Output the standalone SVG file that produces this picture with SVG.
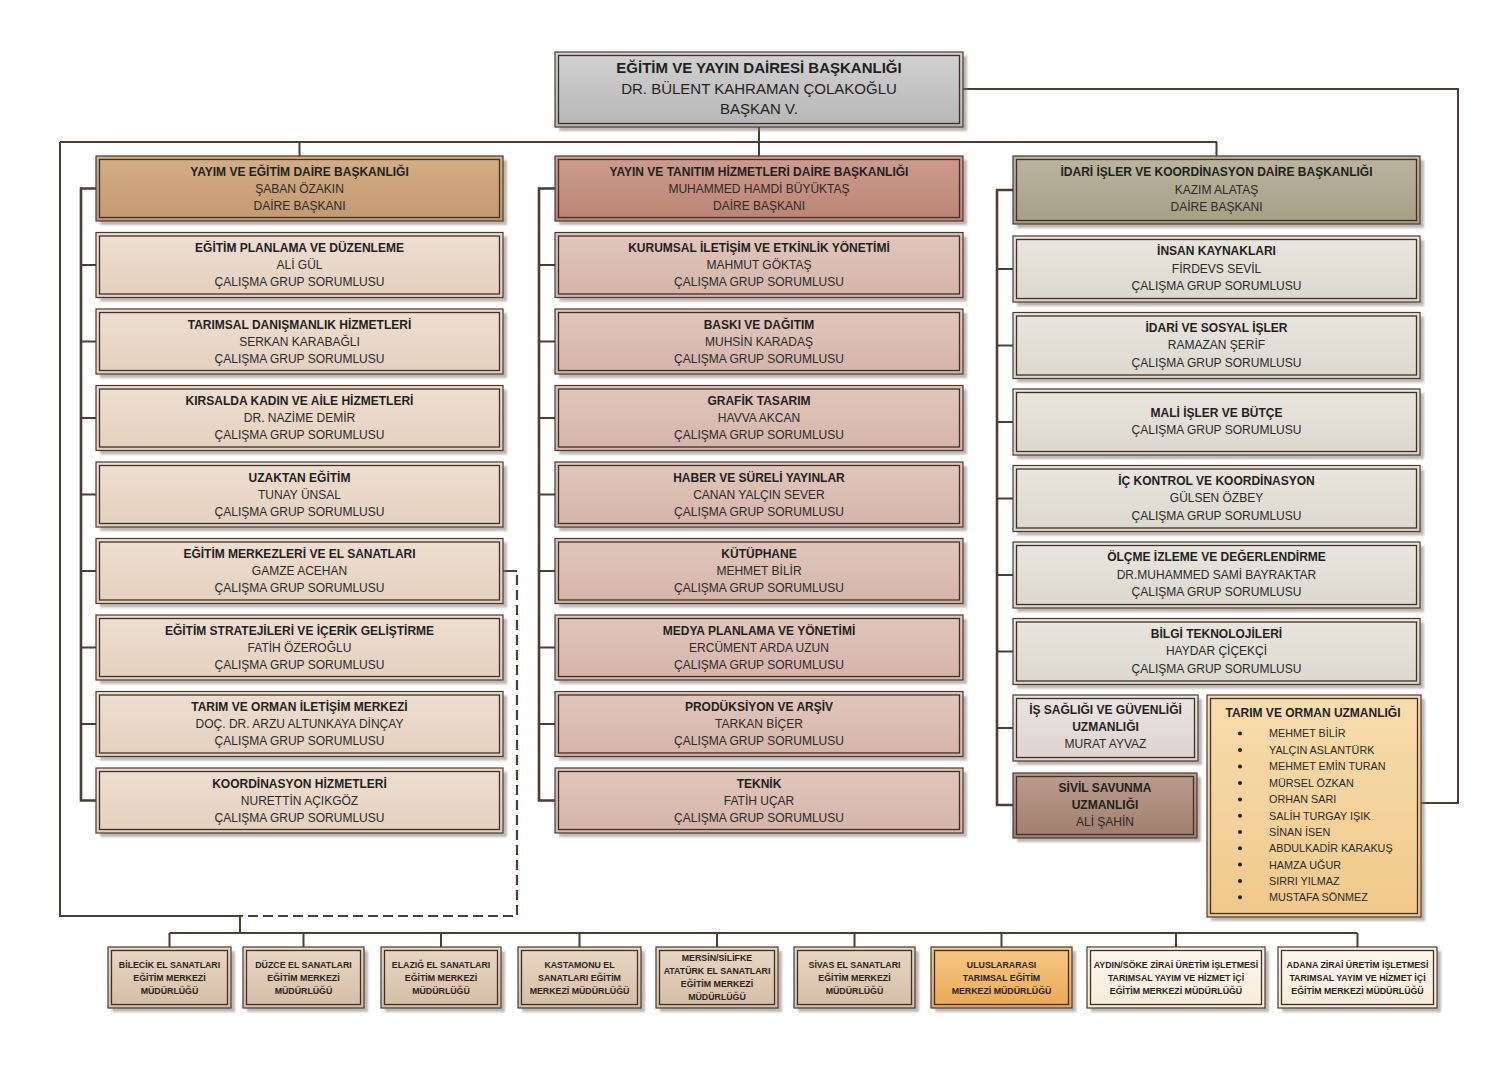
<svg xmlns="http://www.w3.org/2000/svg" width="1509" height="1069" viewBox="0 0 1509 1069">
<defs>
<linearGradient id="gTop" x1="0" y1="0" x2="0" y2="1"><stop offset="0" stop-color="#d2d2d2"/><stop offset="1" stop-color="#b6b6b6"/></linearGradient>
<linearGradient id="gL1" x1="0" y1="0" x2="0" y2="1"><stop offset="0" stop-color="#d5ae87"/><stop offset="1" stop-color="#c39970"/></linearGradient>
<linearGradient id="gL2" x1="0" y1="0" x2="0" y2="1"><stop offset="0" stop-color="#eedfd1"/><stop offset="1" stop-color="#e4d0be"/></linearGradient>
<linearGradient id="gM1" x1="0" y1="0" x2="0" y2="1"><stop offset="0" stop-color="#cd9d8f"/><stop offset="1" stop-color="#bb8373"/></linearGradient>
<linearGradient id="gM2" x1="0" y1="0" x2="0" y2="1"><stop offset="0" stop-color="#e1c7bd"/><stop offset="1" stop-color="#d6b4a8"/></linearGradient>
<linearGradient id="gR1" x1="0" y1="0" x2="0" y2="1"><stop offset="0" stop-color="#bcb59f"/><stop offset="1" stop-color="#a69e85"/></linearGradient>
<linearGradient id="gR2" x1="0" y1="0" x2="0" y2="1"><stop offset="0" stop-color="#e8e6de"/><stop offset="1" stop-color="#dbd8ce"/></linearGradient>
<linearGradient id="gIS" x1="0" y1="0" x2="0" y2="1"><stop offset="0" stop-color="#ebe4e1"/><stop offset="1" stop-color="#ddd3cf"/></linearGradient>
<linearGradient id="gSV" x1="0" y1="0" x2="0" y2="1"><stop offset="0" stop-color="#ba9d8d"/><stop offset="1" stop-color="#a17e6d"/></linearGradient>
<linearGradient id="gTU" x1="0" y1="0" x2="0" y2="1"><stop offset="0" stop-color="#f8ddae"/><stop offset="1" stop-color="#f0c98a"/></linearGradient>
<linearGradient id="gB" x1="0" y1="0" x2="0" y2="1"><stop offset="0" stop-color="#e9d7c4"/><stop offset="1" stop-color="#d5bda6"/></linearGradient>
<linearGradient id="gBO" x1="0" y1="0" x2="0" y2="1"><stop offset="0" stop-color="#f6c986"/><stop offset="1" stop-color="#eaa955"/></linearGradient>
<linearGradient id="gBC" x1="0" y1="0" x2="0" y2="1"><stop offset="0" stop-color="#fdf7ef"/><stop offset="1" stop-color="#f8ebda"/></linearGradient>
<filter id="blur"><feGaussianBlur stdDeviation="1.2"/></filter>
</defs>
<style>
.sh{fill:#7f726a;opacity:.5;filter:url(#blur)}
.o{stroke:#4a3a30;stroke-width:1.2}
.i{fill:none;stroke:#3e3029;stroke-width:1.3}
.tt,.tb,.tr,.bb,.tn{font-family:"Liberation Sans",Arial,sans-serif;fill:#1f1f1f}
.tt{font-size:15px;text-anchor:middle}
.tb{font-size:12px;font-weight:bold;text-anchor:middle}
.tr{font-size:12px;text-anchor:middle;fill:#2a2a2a}
.bb{font-size:8.8px;font-weight:bold;text-anchor:middle;fill:#2a2320}
.tn{font-size:10.8px;fill:#2a2a2a}
.b{font-weight:bold}
.c{fill:none;stroke:#4d3d33;stroke-width:2}
.cb{fill:none;stroke:#4d3d33;stroke-width:2.6}
.cd{fill:none;stroke:#4d3d33;stroke-width:2.2;stroke-dasharray:10 5}
.dot{fill:#222}
</style>

<g id="connectors">
<path class="c" d="M759 127V142M60 142H1217M299.5 142V156M759 142V156M1216.5 142V156"/>
<path class="c" d="M60 142V916H240V933"/>
<path class="c" d="M503 571H517"/>
<path class="cd" d="M517 575V916H240"/>
<path class="c" d="M169.5 933H1357.5M169.5 933V947M303.5 933V947M441 933V947M579.5 933V947M717 933V947M854.5 933V947M1001.5 933V947M1176 933V947M1357.5 933V947"/>
<path class="c" d="M963 89H1458V803H1421"/>
<path class="cb" d="M96 188.5H81V800.5H96"/>
<path class="c" d="M81 265H96M81 341.5H96M81 418H96M81 494.5H96M81 571H96M81 647.5H96M81 724H96"/>
<path class="cb" d="M555 188.5H539V800.5H555"/>
<path class="c" d="M539 265H555M539 341.5H555M539 418H555M539 494.5H555M539 571H555M539 647.5H555M539 724H555"/>
<path class="cb" d="M1013 190H997V805H1013"/>
<path class="c" d="M997 269H1013M997 345.5H1013M997 422H1013M997 498.5H1013M997 575H1013M997 651.5H1013M997 728H1013"/>
</g>

<g id="n-top"><rect class="sh" x="559" y="56" width="408" height="75"/><rect class="o" fill="url(#gTop)" x="555" y="52" width="408" height="75"/><rect class="i" x="558.5" y="55.5" width="401" height="68"/>
<text class="tt b" x="759" y="73">EĞİTİM VE YAYIN DAİRESİ BAŞKANLIĞI</text><text class="tt" x="759" y="93.5">DR. BÜLENT KAHRAMAN ÇOLAKOĞLU</text><text class="tt" x="759" y="114">BAŞKAN V.</text></g>

<!-- Left column -->
<g id="n-l0"><rect class="sh" x="100" y="160" width="407" height="65"/><rect class="o" fill="url(#gL1)" x="96" y="156" width="407" height="65"/><rect class="i" x="99.5" y="159.5" width="400" height="58"/>
<text class="tb" x="299.5" y="175.5">YAYIM VE EĞİTİM DAİRE BAŞKANLIĞI</text><text class="tr" x="299.5" y="192.5">ŞABAN ÖZAKIN</text><text class="tr" x="299.5" y="209.5">DAİRE BAŞKANI</text></g>
<g id="n-l1"><rect class="sh" x="100" y="236.5" width="407" height="65"/><rect class="o" fill="url(#gL2)" x="96" y="232.5" width="407" height="65"/><rect class="i" x="99.5" y="236" width="400" height="58"/>
<text class="tb" x="299.5" y="252">EĞİTİM PLANLAMA VE DÜZENLEME</text><text class="tr" x="299.5" y="269">ALİ GÜL</text><text class="tr" x="299.5" y="286">ÇALIŞMA GRUP SORUMLUSU</text></g>
<g id="n-l2"><rect class="sh" x="100" y="313" width="407" height="65"/><rect class="o" fill="url(#gL2)" x="96" y="309" width="407" height="65"/><rect class="i" x="99.5" y="312.5" width="400" height="58"/>
<text class="tb" x="299.5" y="328.5">TARIMSAL DANIŞMANLIK HİZMETLERİ</text><text class="tr" x="299.5" y="345.5">SERKAN KARABAĞLI</text><text class="tr" x="299.5" y="362.5">ÇALIŞMA GRUP SORUMLUSU</text></g>
<g id="n-l3"><rect class="sh" x="100" y="389.5" width="407" height="65"/><rect class="o" fill="url(#gL2)" x="96" y="385.5" width="407" height="65"/><rect class="i" x="99.5" y="389" width="400" height="58"/>
<text class="tb" x="299.5" y="405">KIRSALDA KADIN VE AİLE HİZMETLERİ</text><text class="tr" x="299.5" y="422">DR. NAZİME DEMİR</text><text class="tr" x="299.5" y="439">ÇALIŞMA GRUP SORUMLUSU</text></g>
<g id="n-l4"><rect class="sh" x="100" y="466" width="407" height="65"/><rect class="o" fill="url(#gL2)" x="96" y="462" width="407" height="65"/><rect class="i" x="99.5" y="465.5" width="400" height="58"/>
<text class="tb" x="299.5" y="481.5">UZAKTAN EĞİTİM</text><text class="tr" x="299.5" y="498.5">TUNAY ÜNSAL</text><text class="tr" x="299.5" y="515.5">ÇALIŞMA GRUP SORUMLUSU</text></g>
<g id="n-l5"><rect class="sh" x="100" y="542.5" width="407" height="65"/><rect class="o" fill="url(#gL2)" x="96" y="538.5" width="407" height="65"/><rect class="i" x="99.5" y="542" width="400" height="58"/>
<text class="tb" x="299.5" y="558">EĞİTİM MERKEZLERİ VE EL SANATLARI</text><text class="tr" x="299.5" y="575">GAMZE ACEHAN</text><text class="tr" x="299.5" y="592">ÇALIŞMA GRUP SORUMLUSU</text></g>
<g id="n-l6"><rect class="sh" x="100" y="619" width="407" height="65"/><rect class="o" fill="url(#gL2)" x="96" y="615" width="407" height="65"/><rect class="i" x="99.5" y="618.5" width="400" height="58"/>
<text class="tb" x="299.5" y="634.5">EĞİTİM STRATEJİLERİ VE İÇERİK GELİŞTİRME</text><text class="tr" x="299.5" y="651.5">FATİH ÖZEROĞLU</text><text class="tr" x="299.5" y="668.5">ÇALIŞMA GRUP SORUMLUSU</text></g>
<g id="n-l7"><rect class="sh" x="100" y="695.5" width="407" height="65"/><rect class="o" fill="url(#gL2)" x="96" y="691.5" width="407" height="65"/><rect class="i" x="99.5" y="695" width="400" height="58"/>
<text class="tb" x="299.5" y="711">TARIM VE ORMAN İLETİŞİM MERKEZİ</text><text class="tr" x="299.5" y="728">DOÇ. DR. ARZU ALTUNKAYA DİNÇAY</text><text class="tr" x="299.5" y="745">ÇALIŞMA GRUP SORUMLUSU</text></g>
<g id="n-l8"><rect class="sh" x="100" y="772" width="407" height="65"/><rect class="o" fill="url(#gL2)" x="96" y="768" width="407" height="65"/><rect class="i" x="99.5" y="771.5" width="400" height="58"/>
<text class="tb" x="299.5" y="787.5">KOORDİNASYON HİZMETLERİ</text><text class="tr" x="299.5" y="804.5">NURETTİN AÇIKGÖZ</text><text class="tr" x="299.5" y="821.5">ÇALIŞMA GRUP SORUMLUSU</text></g>

<!-- Middle column -->
<g id="n-m0"><rect class="sh" x="559" y="160" width="408" height="65"/><rect class="o" fill="url(#gM1)" x="555" y="156" width="408" height="65"/><rect class="i" x="558.5" y="159.5" width="401" height="58"/>
<text class="tb" x="759" y="175.5">YAYIN VE TANITIM HİZMETLERİ DAİRE BAŞKANLIĞI</text><text class="tr" x="759" y="192.5">MUHAMMED HAMDİ BÜYÜKTAŞ</text><text class="tr" x="759" y="209.5">DAİRE BAŞKANI</text></g>
<g id="n-m1"><rect class="sh" x="559" y="236.5" width="408" height="65"/><rect class="o" fill="url(#gM2)" x="555" y="232.5" width="408" height="65"/><rect class="i" x="558.5" y="236" width="401" height="58"/>
<text class="tb" x="759" y="252">KURUMSAL İLETİŞİM VE ETKİNLİK YÖNETİMİ</text><text class="tr" x="759" y="269">MAHMUT GÖKTAŞ</text><text class="tr" x="759" y="286">ÇALIŞMA GRUP SORUMLUSU</text></g>
<g id="n-m2"><rect class="sh" x="559" y="313" width="408" height="65"/><rect class="o" fill="url(#gM2)" x="555" y="309" width="408" height="65"/><rect class="i" x="558.5" y="312.5" width="401" height="58"/>
<text class="tb" x="759" y="328.5">BASKI VE DAĞITIM</text><text class="tr" x="759" y="345.5">MUHSİN KARADAŞ</text><text class="tr" x="759" y="362.5">ÇALIŞMA GRUP SORUMLUSU</text></g>
<g id="n-m3"><rect class="sh" x="559" y="389.5" width="408" height="65"/><rect class="o" fill="url(#gM2)" x="555" y="385.5" width="408" height="65"/><rect class="i" x="558.5" y="389" width="401" height="58"/>
<text class="tb" x="759" y="405">GRAFİK TASARIM</text><text class="tr" x="759" y="422">HAVVA AKCAN</text><text class="tr" x="759" y="439">ÇALIŞMA GRUP SORUMLUSU</text></g>
<g id="n-m4"><rect class="sh" x="559" y="466" width="408" height="65"/><rect class="o" fill="url(#gM2)" x="555" y="462" width="408" height="65"/><rect class="i" x="558.5" y="465.5" width="401" height="58"/>
<text class="tb" x="759" y="481.5">HABER VE SÜRELİ YAYINLAR</text><text class="tr" x="759" y="498.5">CANAN YALÇIN SEVER</text><text class="tr" x="759" y="515.5">ÇALIŞMA GRUP SORUMLUSU</text></g>
<g id="n-m5"><rect class="sh" x="559" y="542.5" width="408" height="65"/><rect class="o" fill="url(#gM2)" x="555" y="538.5" width="408" height="65"/><rect class="i" x="558.5" y="542" width="401" height="58"/>
<text class="tb" x="759" y="558">KÜTÜPHANE</text><text class="tr" x="759" y="575">MEHMET BİLİR</text><text class="tr" x="759" y="592">ÇALIŞMA GRUP SORUMLUSU</text></g>
<g id="n-m6"><rect class="sh" x="559" y="619" width="408" height="65"/><rect class="o" fill="url(#gM2)" x="555" y="615" width="408" height="65"/><rect class="i" x="558.5" y="618.5" width="401" height="58"/>
<text class="tb" x="759" y="634.5">MEDYA PLANLAMA VE YÖNETİMİ</text><text class="tr" x="759" y="651.5">ERCÜMENT ARDA UZUN</text><text class="tr" x="759" y="668.5">ÇALIŞMA GRUP SORUMLUSU</text></g>
<g id="n-m7"><rect class="sh" x="559" y="695.5" width="408" height="65"/><rect class="o" fill="url(#gM2)" x="555" y="691.5" width="408" height="65"/><rect class="i" x="558.5" y="695" width="401" height="58"/>
<text class="tb" x="759" y="711">PRODÜKSİYON VE ARŞİV</text><text class="tr" x="759" y="728">TARKAN BİÇER</text><text class="tr" x="759" y="745">ÇALIŞMA GRUP SORUMLUSU</text></g>
<g id="n-m8"><rect class="sh" x="559" y="772" width="408" height="65"/><rect class="o" fill="url(#gM2)" x="555" y="768" width="408" height="65"/><rect class="i" x="558.5" y="771.5" width="401" height="58"/>
<text class="tb" x="759" y="787.5">TEKNİK</text><text class="tr" x="759" y="804.5">FATİH UÇAR</text><text class="tr" x="759" y="821.5">ÇALIŞMA GRUP SORUMLUSU</text></g>

<!-- Right column -->
<g id="n-r0"><rect class="sh" x="1017" y="160" width="407" height="68"/><rect class="o" fill="url(#gR1)" x="1013" y="156" width="407" height="68"/><rect class="i" x="1016.5" y="159.5" width="400" height="61"/>
<text class="tb" x="1216.5" y="176">İDARİ İŞLER VE KOORDİNASYON DAİRE BAŞKANLIĞI</text><text class="tr" x="1216.5" y="194">KAZIM ALATAŞ</text><text class="tr" x="1216.5" y="211">DAİRE BAŞKANI</text></g>
<g id="n-r1"><rect class="sh" x="1017" y="240" width="407" height="66"/><rect class="o" fill="url(#gR2)" x="1013" y="236" width="407" height="66"/><rect class="i" x="1016.5" y="239.5" width="400" height="59"/>
<text class="tb" x="1216.5" y="255">İNSAN KAYNAKLARI</text><text class="tr" x="1216.5" y="272.5">FİRDEVS SEVİL</text><text class="tr" x="1216.5" y="290">ÇALIŞMA GRUP SORUMLUSU</text></g>
<g id="n-r2"><rect class="sh" x="1017" y="316.5" width="407" height="66"/><rect class="o" fill="url(#gR2)" x="1013" y="312.5" width="407" height="66"/><rect class="i" x="1016.5" y="316" width="400" height="59"/>
<text class="tb" x="1216.5" y="331.5">İDARİ VE SOSYAL İŞLER</text><text class="tr" x="1216.5" y="349">RAMAZAN ŞERİF</text><text class="tr" x="1216.5" y="366.5">ÇALIŞMA GRUP SORUMLUSU</text></g>
<g id="n-r3"><rect class="sh" x="1017" y="393" width="407" height="66"/><rect class="o" fill="url(#gR2)" x="1013" y="389" width="407" height="66"/><rect class="i" x="1016.5" y="392.5" width="400" height="59"/>
<text class="tb" x="1216.5" y="416.5">MALİ İŞLER VE BÜTÇE</text><text class="tr" x="1216.5" y="433.5">ÇALIŞMA GRUP SORUMLUSU</text></g>
<g id="n-r4"><rect class="sh" x="1017" y="469.5" width="407" height="66"/><rect class="o" fill="url(#gR2)" x="1013" y="465.5" width="407" height="66"/><rect class="i" x="1016.5" y="469" width="400" height="59"/>
<text class="tb" x="1216.5" y="484.5">İÇ KONTROL VE KOORDİNASYON</text><text class="tr" x="1216.5" y="502">GÜLSEN ÖZBEY</text><text class="tr" x="1216.5" y="519.5">ÇALIŞMA GRUP SORUMLUSU</text></g>
<g id="n-r5"><rect class="sh" x="1017" y="546" width="407" height="66"/><rect class="o" fill="url(#gR2)" x="1013" y="542" width="407" height="66"/><rect class="i" x="1016.5" y="545.5" width="400" height="59"/>
<text class="tb" x="1216.5" y="561">ÖLÇME İZLEME VE DEĞERLENDİRME</text><text class="tr" x="1216.5" y="578.5">DR.MUHAMMED SAMİ BAYRAKTAR</text><text class="tr" x="1216.5" y="596">ÇALIŞMA GRUP SORUMLUSU</text></g>
<g id="n-r6"><rect class="sh" x="1017" y="622.5" width="407" height="66"/><rect class="o" fill="url(#gR2)" x="1013" y="618.5" width="407" height="66"/><rect class="i" x="1016.5" y="622" width="400" height="59"/>
<text class="tb" x="1216.5" y="637.5">BİLGİ TEKNOLOJİLERİ</text><text class="tr" x="1216.5" y="655">HAYDAR ÇİÇEKÇİ</text><text class="tr" x="1216.5" y="672.5">ÇALIŞMA GRUP SORUMLUSU</text></g>
<g id="n-r7"><rect class="sh" x="1017" y="699" width="185" height="66"/><rect class="o" fill="url(#gIS)" x="1013" y="695" width="185" height="66"/><rect class="i" x="1016.5" y="698.5" width="178" height="59"/>
<text class="tb" x="1105.5" y="714">İŞ SAĞLIĞI VE GÜVENLİĞİ</text><text class="tb" x="1105.5" y="731">UZMANLIĞI</text><text class="tr" x="1105.5" y="748">MURAT AYVAZ</text></g>
<g id="n-r8"><rect class="sh" x="1017" y="777" width="184" height="65"/><rect class="o" fill="url(#gSV)" x="1013" y="773" width="184" height="65"/><rect class="i" x="1016.5" y="776.5" width="177" height="58"/>
<text class="tb" x="1105" y="792">SİVİL SAVUNMA</text><text class="tb" x="1105" y="809">UZMANLIĞI</text><text class="tr" x="1105" y="826">ALİ ŞAHİN</text></g>
<g id="n-r9"><rect class="sh" x="1211" y="699" width="214" height="222"/><rect class="o" fill="url(#gTU)" x="1207" y="695" width="214" height="222"/><rect class="i" x="1210.5" y="698.5" width="207" height="215"/>
<text class="tb" x="1313" y="717">TARIM VE ORMAN UZMANLIĞI</text>
<circle class="dot" cx="1240" cy="733.5" r="2"/><text class="tn" x="1269" y="737.4">MEHMET BİLİR</text>
<circle class="dot" cx="1240" cy="750" r="2"/><text class="tn" x="1269" y="753.9">YALÇIN ASLANTÜRK</text>
<circle class="dot" cx="1240" cy="766.5" r="2"/><text class="tn" x="1269" y="770.4">MEHMET EMİN TURAN</text>
<circle class="dot" cx="1240" cy="783" r="2"/><text class="tn" x="1269" y="786.9">MÜRSEL ÖZKAN</text>
<circle class="dot" cx="1240" cy="799.5" r="2"/><text class="tn" x="1269" y="803.4">ORHAN SARI</text>
<circle class="dot" cx="1240" cy="815.8" r="2"/><text class="tn" x="1269" y="819.7">SALİH TURGAY IŞIK</text>
<circle class="dot" cx="1240" cy="832" r="2"/><text class="tn" x="1269" y="835.9">SİNAN İSEN</text>
<circle class="dot" cx="1240" cy="848.3" r="2"/><text class="tn" x="1269" y="852.2">ABDULKADİR KARAKUŞ</text>
<circle class="dot" cx="1240" cy="864.6" r="2"/><text class="tn" x="1269" y="868.5">HAMZA UĞUR</text>
<circle class="dot" cx="1240" cy="881" r="2"/><text class="tn" x="1269" y="884.9">SIRRI YILMAZ</text>
<circle class="dot" cx="1240" cy="897.3" r="2"/><text class="tn" x="1269" y="901.2">MUSTAFA SÖNMEZ</text></g>

<!-- Bottom row -->
<g id="n-b1"><rect class="sh" x="112" y="951" width="123" height="61"/><rect class="o" fill="url(#gB)" x="108" y="947" width="123" height="61"/><rect class="i" x="111.5" y="950.5" width="116" height="54"/>
<text class="bb" x="169.5" y="967.5">BİLECİK EL SANATLARI</text><text class="bb" x="169.5" y="980.5">EĞİTİM MERKEZİ</text><text class="bb" x="169.5" y="993.5">MÜDÜRLÜĞÜ</text></g>
<g id="n-b2"><rect class="sh" x="247" y="951" width="121" height="61"/><rect class="o" fill="url(#gB)" x="243" y="947" width="121" height="61"/><rect class="i" x="246.5" y="950.5" width="114" height="54"/>
<text class="bb" x="303.5" y="967.5">DÜZCE EL SANATLARI</text><text class="bb" x="303.5" y="980.5">EĞİTİM MERKEZİ</text><text class="bb" x="303.5" y="993.5">MÜDÜRLÜĞÜ</text></g>
<g id="n-b3"><rect class="sh" x="385" y="951" width="120" height="61"/><rect class="o" fill="url(#gB)" x="381" y="947" width="120" height="61"/><rect class="i" x="384.5" y="950.5" width="113" height="54"/>
<text class="bb" x="441" y="967.5">ELAZIĞ EL SANATLARI</text><text class="bb" x="441" y="980.5">EĞİTİM MERKEZİ</text><text class="bb" x="441" y="993.5">MÜDÜRLÜĞÜ</text></g>
<g id="n-b4"><rect class="sh" x="522" y="951" width="123" height="61"/><rect class="o" fill="url(#gB)" x="518" y="947" width="123" height="61"/><rect class="i" x="521.5" y="950.5" width="116" height="54"/>
<text class="bb" x="579.5" y="967.5">KASTAMONU EL</text><text class="bb" x="579.5" y="980.5">SANATLARI EĞİTİM</text><text class="bb" x="579.5" y="993.5">MERKEZİ MÜDÜRLÜĞÜ</text></g>
<g id="n-b5"><rect class="sh" x="660" y="951" width="122" height="61"/><rect class="o" fill="url(#gB)" x="656" y="947" width="122" height="61"/><rect class="i" x="659.5" y="950.5" width="115" height="54"/>
<text class="bb" x="717" y="960.5">MERSİN/SİLİFKE</text><text class="bb" x="717" y="973.5">ATATÜRK EL SANATLARI</text><text class="bb" x="717" y="986.5">EĞİTİM MERKEZİ</text><text class="bb" x="717" y="999.5">MÜDÜRLÜĞÜ</text></g>
<g id="n-b6"><rect class="sh" x="798" y="951" width="121" height="61"/><rect class="o" fill="url(#gB)" x="794" y="947" width="121" height="61"/><rect class="i" x="797.5" y="950.5" width="114" height="54"/>
<text class="bb" x="854.5" y="967.5">SİVAS EL SANATLARI</text><text class="bb" x="854.5" y="980.5">EĞİTİM MERKEZİ</text><text class="bb" x="854.5" y="993.5">MÜDÜRLÜĞÜ</text></g>
<g id="n-b7"><rect class="sh" x="935" y="951" width="141" height="61"/><rect class="o" fill="url(#gBO)" x="931" y="947" width="141" height="61"/><rect class="i" x="934.5" y="950.5" width="134" height="54"/>
<text class="bb" x="1001.5" y="967.5">ULUSLARARASI</text><text class="bb" x="1001.5" y="980.5">TARIMSAL EĞİTİM</text><text class="bb" x="1001.5" y="993.5">MERKEZİ MÜDÜRLÜĞÜ</text></g>
<g id="n-b8"><rect class="sh" x="1091" y="951" width="178" height="61"/><rect class="o" fill="url(#gBC)" x="1087" y="947" width="178" height="61"/><rect class="i" x="1090.5" y="950.5" width="171" height="54"/>
<text class="bb" x="1176" y="968">AYDIN/SÖKE ZİRAİ ÜRETİM İŞLETMESİ</text><text class="bb" x="1176" y="981">TARIMSAL YAYIM VE HİZMET İÇİ</text><text class="bb" x="1176" y="994">EĞİTİM MERKEZİ MÜDÜRLÜĞÜ</text></g>
<g id="n-b9"><rect class="sh" x="1282" y="951" width="159" height="61"/><rect class="o" fill="url(#gBC)" x="1278" y="947" width="159" height="61"/><rect class="i" x="1281.5" y="950.5" width="152" height="54"/>
<text class="bb" x="1357.5" y="968">ADANA ZİRAİ ÜRETİM İŞLETMESİ</text><text class="bb" x="1357.5" y="981">TARIMSAL YAYIM VE HİZMET İÇİ</text><text class="bb" x="1357.5" y="994">EĞİTİM MERKEZİ MÜDÜRLÜĞÜ</text></g>
</svg>
